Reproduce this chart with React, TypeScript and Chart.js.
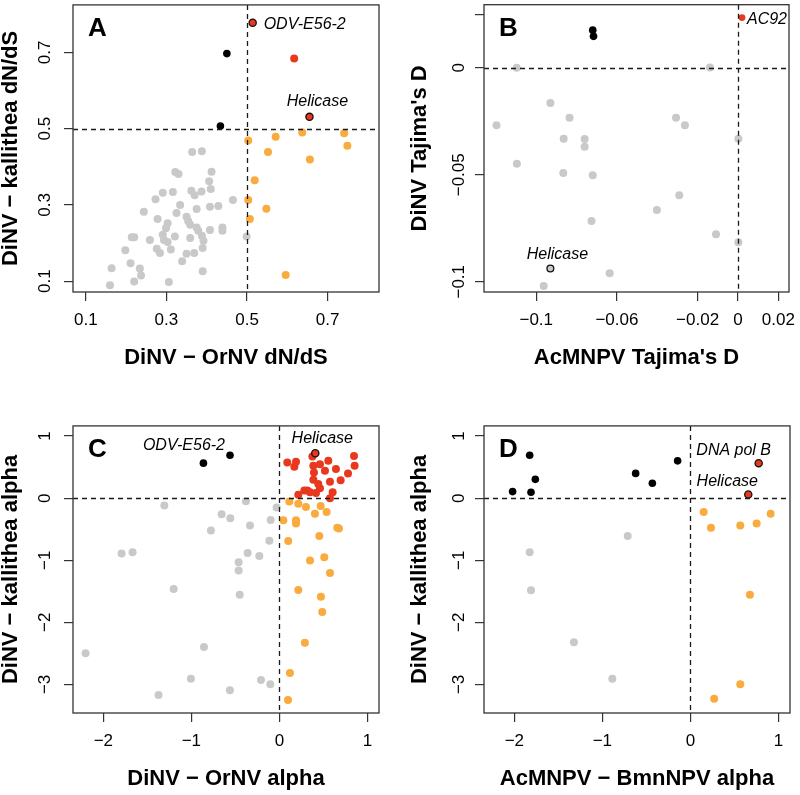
import React, { useEffect, useRef } from 'react';
import { Chart, registerables } from 'chart.js';

Chart.register(...registerables);

const FONT = '"Liberation Sans", Arial, Helvetica, sans-serif';
const GREY = '#c9c9c9';
const ORANGE = '#f9ab3e';
const RED = '#e8391f';
const BLACK = '#000000';

// ---------------- Panel A : dN/dS ----------------
const aXTicks = [0.1, 0.3, 0.5, 0.7];
const aXTickLabels = ['0.1', '0.3', '0.5', '0.7'];
const aYTicks = [0.1, 0.3, 0.5, 0.7];
const aYTickLabels = ['0.1', '0.3', '0.5', '0.7'];
const aGrey = [
  [0.364, 0.439], [0.388, 0.441], [0.322, 0.386], [0.330, 0.381], [0.412, 0.387], [0.406, 0.362],
  [0.410, 0.342], [0.291, 0.332], [0.316, 0.334], [0.362, 0.337], [0.370, 0.325], [0.387, 0.335],
  [0.273, 0.315], [0.465, 0.313], [0.334, 0.300], [0.408, 0.295], [0.429, 0.297], [0.244, 0.282],
  [0.325, 0.279], [0.375, 0.289], [0.278, 0.263], [0.350, 0.269], [0.303, 0.252], [0.354, 0.258],
  [0.359, 0.248], [0.299, 0.239], [0.375, 0.241], [0.408, 0.234], [0.439, 0.241], [0.439, 0.232],
  [0.214, 0.215], [0.220, 0.215], [0.259, 0.208], [0.291, 0.222], [0.294, 0.208], [0.321, 0.217],
  [0.359, 0.213], [0.379, 0.232], [0.388, 0.219], [0.392, 0.206], [0.303, 0.203], [0.198, 0.181],
  [0.276, 0.185], [0.284, 0.174], [0.311, 0.183], [0.390, 0.187], [0.350, 0.172], [0.369, 0.174],
  [0.339, 0.152], [0.211, 0.147], [0.164, 0.134], [0.234, 0.133], [0.390, 0.126], [0.237, 0.115],
  [0.220, 0.099], [0.306, 0.098], [0.160, 0.089], [0.499, 0.217],
];
const aOrange = [
  [0.503, 0.469], [0.571, 0.479], [0.637, 0.490], [0.741, 0.488], [0.749, 0.455], [0.552, 0.439],
  [0.656, 0.419], [0.519, 0.365], [0.503, 0.313], [0.548, 0.290], [0.507, 0.263], [0.596, 0.116],
];
const aRed = [[0.617, 0.684]];
const aBlack = [[0.450, 0.697], [0.434, 0.507]];
const aNamed = [[0.514, 0.778], [0.655, 0.531]];
const aNames = ['ODV-E56-2', 'Helicase'];

// ---------------- Panel B : Tajima's D ----------------
const bXTicks = [-0.1, -0.06, -0.02, 0, 0.02];
const bXTickLabels = ['\u22120.1', '\u22120.06', '\u22120.02', '0', '0.02'];
const bYTicks = [-0.1, -0.05, 0, 0.025];
const bYTickLabels = ['\u22120.1', '\u22120.05', '0', ''];
const bGrey = [
  [-0.1097, 0], [-0.0139, 0.0002], [-0.093, -0.0164], [-0.0835, -0.0233], [-0.1197, -0.0269],
  [-0.0307, -0.0233], [-0.0263, -0.0269], [-0.0864, -0.0332], [-0.076, -0.0333], [-0.076, -0.0369],
  [0.0002, -0.0332], [-0.1096, -0.0448], [-0.0866, -0.0492], [-0.072, -0.0502], [-0.0291, -0.0596],
  [-0.0402, -0.0665], [-0.0726, -0.0716], [-0.0109, -0.0778], [0.0002, -0.0815], [-0.0636, -0.096],
  [-0.0963, -0.102],
];
const bBlack = [[-0.072, 0.0176], [-0.0716, 0.0147]];
const bNamedRed = [[0.002, 0.0235]];
const bNamesRed = ['AC92'];
const bNamedGrey = [[-0.093, -0.0938]];
const bNamesGrey = ['Helicase'];

// ---------------- Panel C : DiNV alpha ----------------
const cXTicks = [-2, -1, 0, 1];
const cXTickLabels = ['\u22122', '\u22121', '0', '1'];
const cYTicks = [-3, -2, -1, 0, 1];
const cYTickLabels = ['\u22123', '\u22122', '\u22121', '0', '1'];
const cGrey = [
  [-1.307, -0.117], [-0.380, -0.048], [-0.031, -0.149], [-0.656, -0.261], [-0.558, -0.324],
  [-0.099, -0.351], [-0.334, -0.441], [-0.778, -0.521], [-0.114, -0.686], [-1.793, -0.893],
  [-1.668, -0.872], [-0.361, -0.882], [-0.228, -0.930], [-0.463, -1.031], [-0.463, -1.164],
  [-1.201, -1.462], [-0.451, -1.558], [-2.202, -2.499], [-0.857, -2.398], [-1.005, -2.908],
  [-0.209, -2.929], [-0.103, -2.998], [-0.562, -3.094], [-1.373, -3.17],
];
const cOrange = [
  [0.113, -0.053], [0.215, -0.090], [0.302, -0.144], [0.469, -0.128], [0.404, -0.250], [0.537, -0.223],
  [0.045, -0.356], [0.189, -0.356], [0.189, -0.409], [0.677, -0.489], [0.658, -0.478], [0.101, -0.691],
  [0.454, -0.611], [0.348, -1.005], [0.510, -0.952], [0.575, -1.207], [0.215, -1.478], [0.472, -1.590],
  [0.487, -1.834], [0.290, -2.329], [0.120, -2.817], [0.098, -3.25],
];
const cRed = [
  [0.090, 0.574], [0.189, 0.585], [0.170, 0.505], [0.375, 0.670], [0.386, 0.521], [0.461, 0.548],
  [0.556, 0.601], [0.518, 0.441], [0.643, 0.468], [0.848, 0.680], [0.855, 0.521], [0.780, 0.399],
  [0.696, 0.287], [0.393, 0.415], [0.386, 0.298], [0.442, 0.229], [0.575, 0.266], [0.461, 0.159],
  [0.317, 0.122], [0.283, 0.122], [0.215, 0.053], [0.416, 0.085], [0.575, 0.0], [0.605, 0.096],
  [0.348, 0.096],
];
const cBlack = [[-0.863, 0.564], [-0.561, 0.691]];
const cNamedBlack = [[-0.561, 0.691]];
const cNamesBlack = ['ODV-E56-2'];
const cNamed = [[0.408, 0.723]];
const cNames = ['Helicase'];

// ---------------- Panel D : baculovirus alpha ----------------
const dXTicks = [-2, -1, 0, 1];
const dXTickLabels = ['\u22122', '\u22121', '0', '1'];
const dYTicks = [-3, -2, -1, 0, 1];
const dYTickLabels = ['\u22123', '\u22122', '\u22121', '0', '1'];
const dGrey = [[-1.826, -0.872], [-1.811, -1.483], [-0.712, -0.611], [-1.323, -2.323], [-0.887, -2.908]];
const dOrange = [
  [0.151, -0.223], [0.234, -0.478], [0.567, -0.441], [0.753, -0.409], [0.912, -0.250],
  [0.677, -1.558], [0.567, -2.998], [0.27, -3.23],
];
const dBlack = [
  [-1.826, 0.691], [-1.762, 0.303], [-2.020, 0.106], [-1.811, 0.096], [-0.622, 0.399],
  [-0.432, 0.239], [-0.145, 0.601],
];
const dNamed = [[0.776, 0.564], [0.658, 0.058]];
const dNames = ['DNA pol B', 'Helicase'];

// ---------------- helpers ----------------
type Group = { pts: number[][]; color: string; radius: number; outline?: boolean; order: number };
type Note = { pt: number[]; text: string; align: CanvasTextAlign; dx: number; dy: number };
type PanelSpec = {
  letter: string;
  xMin: number; xMax: number; yMin: number; yMax: number;
  xTicks: number[]; xTickLabels: string[]; yTicks: number[]; yTickLabels: string[];
  xTitle: string; yTitle: string; refX: number; refY: number;
  groups: Group[]; notes: Note[];
  yAxisWidth: number; rightPad: number; yLabelGap: number; yTitlePad: number;
};

const CANVAS_W = 400;
const CANVAS_H = 374;
const TICK_FONT_SIZE = 17;

const decorPlugin = {
  id: 'decor',
  afterDatasetsDraw(chart: any, _args: any, opts: any) {
    const { ctx, chartArea: ca } = chart;
    const xs = chart.scales.x;
    const ys = chart.scales.y;
    ctx.save();
    // reference dashed lines
    ctx.strokeStyle = '#1a1a1a';
    ctx.lineWidth = 1.3;
    ctx.setLineDash([5, 4]);
    const px = Math.round(xs.getPixelForValue(opts.refX)) + 0.5;
    const py = Math.round(ys.getPixelForValue(opts.refY)) + 0.5;
    ctx.beginPath();
    ctx.moveTo(px, ca.top);
    ctx.lineTo(px, ca.bottom);
    ctx.moveTo(ca.left, py);
    ctx.lineTo(ca.right, py);
    ctx.stroke();
    ctx.setLineDash([]);
    // box
    ctx.strokeStyle = '#333333';
    ctx.lineWidth = 1.3;
    ctx.strokeRect(ca.left, ca.top, ca.right - ca.left, ca.bottom - ca.top);
    // y tick labels (parallel to the axis), placed through the y scale
    ctx.fillStyle = '#000';
    ctx.font = `${TICK_FONT_SIZE}px ${FONT}`;
    ctx.textAlign = 'center';
    ctx.textBaseline = 'middle';
    ys.ticks.forEach((t: any, i: number) => {
      const lbl = opts.yLabels[i];
      if (!lbl) return;
      const ty = ys.getPixelForValue(t.value);
      ctx.save();
      ctx.translate(ca.left - opts.yLabelGap, ty);
      ctx.rotate(-Math.PI / 2);
      ctx.fillText(lbl, 0, 0);
      ctx.restore();
    });
    // panel letter
    ctx.font = `bold 26px ${FONT}`;
    ctx.textAlign = 'left';
    ctx.textBaseline = 'alphabetic';
    ctx.fillText(opts.letter, ca.left + 15, ca.top + 31);
    // gene notes
    ctx.font = `italic 16px ${FONT}`;
    ctx.textBaseline = 'middle';
    for (const n of opts.notes as Note[]) {
      const nx = xs.getPixelForValue(n.pt[0]) + n.dx;
      const ny = ys.getPixelForValue(n.pt[1]) + n.dy;
      ctx.textAlign = n.align;
      ctx.fillText(n.text, nx, ny);
    }
    ctx.restore();
  },
};

function zeroPad(s: any) {
  s.paddingTop = 0;
  s.paddingBottom = 0;
  s.paddingLeft = 0;
  s.paddingRight = 0;
}

function buildConfig(p: PanelSpec): any {
  const datasets = p.groups.map((g) => ({
    data: g.pts.map(([x, y]) => ({ x, y })),
    pointRadius: g.radius,
    pointHoverRadius: g.radius,
    pointBackgroundColor: g.color,
    pointBorderColor: g.outline ? '#111111' : g.color,
    pointBorderWidth: g.outline ? 1.3 : 0,
    showLine: false,
    order: g.order,
  }));
  const tickFont = { family: FONT, size: TICK_FONT_SIZE };
  const titleFont = { family: FONT, size: 22, weight: 'bold' as const, lineHeight: 1 };
  const grid = { drawOnChartArea: false, drawTicks: true, tickLength: 9, color: '#333333', lineWidth: 1.2 };
  return {
    type: 'scatter',
    data: { datasets },
    plugins: [decorPlugin],
    options: {
      animation: false,
      responsive: false,
      maintainAspectRatio: false,
      devicePixelRatio: 1,
      events: [],
      layout: { padding: { top: 2, right: p.rightPad, bottom: 3, left: 0 } },
      plugins: {
        legend: { display: false },
        tooltip: { enabled: false },
        decor: { letter: p.letter, refX: p.refX, refY: p.refY, notes: p.notes, yLabels: p.yTickLabels, yLabelGap: p.yLabelGap },
      },
      scales: {
        x: {
          type: 'linear',
          position: 'bottom',
          bounds: 'data',
          min: p.xMin,
          max: p.xMax,
          afterBuildTicks: (s: any) => { s.ticks = p.xTicks.map((v) => ({ value: v })); },
          afterFit: (s: any) => { s.height = CANVAS_H - 3 - 2 - 290; zeroPad(s); },
          ticks: {
            callback: (_v: any, i: number) => p.xTickLabels[i],
            font: tickFont, color: '#000', padding: 9, autoSkip: false, maxRotation: 0, minRotation: 0,
          },
          grid,
          border: { display: false },
          title: { display: true, text: p.xTitle, font: titleFont, color: '#000', padding: { top: 0, bottom: 2 } },
        },
        y: {
          type: 'linear',
          position: 'left',
          bounds: 'data',
          min: p.yMin,
          max: p.yMax,
          afterBuildTicks: (s: any) => { s.ticks = p.yTicks.map((v) => ({ value: v })); },
          afterFit: (s: any) => { s.width = p.yAxisWidth; zeroPad(s); },
          ticks: {
            display: false,
            callback: (_v: any, i: number) => p.yTickLabels[i],
            autoSkip: false,
          },
          grid,
          border: { display: false },
          title: { display: true, text: p.yTitle, font: titleFont, color: '#000', padding: { top: p.yTitlePad, bottom: 0 } },
        },
      },
    },
  };
}

const panelA: PanelSpec = {
  letter: 'A', xMin: 0.0682, xMax: 0.8275, yMin: 0.0715, yMax: 0.8247,
  xTicks: aXTicks, xTickLabels: aXTickLabels, yTicks: aYTicks, yTickLabels: aYTickLabels,
  xTitle: 'DiNV \u2212 OrNV dN/dS', yTitle: 'DiNV \u2212 kallithea dN/dS', refX: 0.5, refY: 0.5,
  groups: [
    { pts: aNamed, color: RED, radius: 3.6, outline: true, order: 0 },
    { pts: aBlack, color: BLACK, radius: 3.8, order: 1 },
    { pts: aRed, color: RED, radius: 4, order: 2 },
    { pts: aOrange, color: ORANGE, radius: 4, order: 3 },
    { pts: aGrey, color: GREY, radius: 4, order: 4 },
  ],
  notes: [
    { pt: aNamed[0], text: aNames[0], align: 'left', dx: 11, dy: 2 },
    { pt: aNamed[1], text: aNames[1], align: 'center', dx: 8, dy: -15 },
  ],
  yAxisWidth: 73, rightPad: 21, yLabelGap: 28, yTitlePad: 0,
};

const panelB: PanelSpec = {
  letter: 'B', xMin: -0.1259, xMax: 0.0253, yMin: -0.1048, yMax: 0.0295,
  xTicks: bXTicks, xTickLabels: bXTickLabels, yTicks: bYTicks, yTickLabels: bYTickLabels,
  xTitle: "AcMNPV Tajima's D", yTitle: "DiNV Tajima's D", refX: 0, refY: 0,
  groups: [
    { pts: bNamedRed, color: RED, radius: 3.4, order: 0 },
    { pts: bNamedGrey, color: GREY, radius: 3.4, outline: true, order: 1 },
    { pts: bBlack, color: BLACK, radius: 3.8, order: 2 },
    { pts: bGrey, color: GREY, radius: 4, order: 3 },
  ],
  notes: [
    { pt: bNamedRed[0], text: bNamesRed[0], align: 'left', dx: 5, dy: 2 },
    { pt: bNamedGrey[0], text: bNamesGrey[0], align: 'center', dx: 7, dy: -14 },
  ],
  yAxisWidth: 84, rightPad: 11, yLabelGap: 25, yTitlePad: 8.5,
};

const panelC: PanelSpec = {
  letter: 'C', xMin: -2.345, xMax: 1.132, yMin: -3.461, yMax: 1.164,
  xTicks: cXTicks, xTickLabels: cXTickLabels, yTicks: cYTicks, yTickLabels: cYTickLabels,
  xTitle: 'DiNV \u2212 OrNV alpha', yTitle: 'DiNV \u2212 kallithea alpha', refX: 0, refY: 0,
  groups: [
    { pts: cNamed, color: RED, radius: 3.6, outline: true, order: 0 },
    { pts: cBlack, color: BLACK, radius: 3.8, order: 1 },
    { pts: cRed, color: RED, radius: 4, order: 2 },
    { pts: cOrange, color: ORANGE, radius: 4, order: 3 },
    { pts: cGrey, color: GREY, radius: 4, order: 4 },
  ],
  notes: [
    { pt: cNamedBlack[0], text: cNamesBlack[0], align: 'right', dx: -5, dy: -10 },
    { pt: cNamed[0], text: cNames[0], align: 'center', dx: 7, dy: -15 },
  ],
  yAxisWidth: 73, rightPad: 21, yLabelGap: 28, yTitlePad: 0,
};

const panelD: PanelSpec = {
  letter: 'D', xMin: -2.345, xMax: 1.132, yMin: -3.461, yMax: 1.164,
  xTicks: dXTicks, xTickLabels: dXTickLabels, yTicks: dYTicks, yTickLabels: dYTickLabels,
  xTitle: 'AcMNPV \u2212 BmnNPV alpha', yTitle: 'DiNV \u2212 kallithea alpha', refX: 0, refY: 0,
  groups: [
    { pts: dNamed, color: RED, radius: 3.6, outline: true, order: 0 },
    { pts: dBlack, color: BLACK, radius: 3.8, order: 1 },
    { pts: dOrange, color: ORANGE, radius: 4, order: 2 },
    { pts: dGrey, color: GREY, radius: 4, order: 3 },
  ],
  notes: [
    { pt: dNamed[0], text: dNames[0], align: 'center', dx: -25, dy: -13 },
    { pt: dNamed[1], text: dNames[1], align: 'center', dx: -21, dy: -13 },
  ],
  yAxisWidth: 84, rightPad: 10, yLabelGap: 25, yTitlePad: 8.5,
};

function PanelChart({ spec, left, top }: { spec: PanelSpec; left: number; top: number }) {
  const ref = useRef<HTMLCanvasElement>(null);
  useEffect(() => {
    if (!ref.current) return;
    const chart = new Chart(ref.current, buildConfig(spec));
    return () => chart.destroy();
  }, [spec]);
  return (
    <canvas
      ref={ref}
      width={CANVAS_W}
      height={CANVAS_H}
      style={{ position: 'absolute', left, top, width: CANVAS_W, height: CANVAS_H, display: 'block' }}
    />
  );
}

export default function App() {
  return (
    <div style={{ position: 'absolute', left: 0, top: 0, width: 800, height: 795, background: '#fff', overflow: 'hidden' }}>
      <PanelChart spec={panelA} left={0} top={0} />
      <PanelChart spec={panelB} left={400} top={0} />
      <PanelChart spec={panelC} left={0} top={421} />
      <PanelChart spec={panelD} left={400} top={421} />
    </div>
  );
}
